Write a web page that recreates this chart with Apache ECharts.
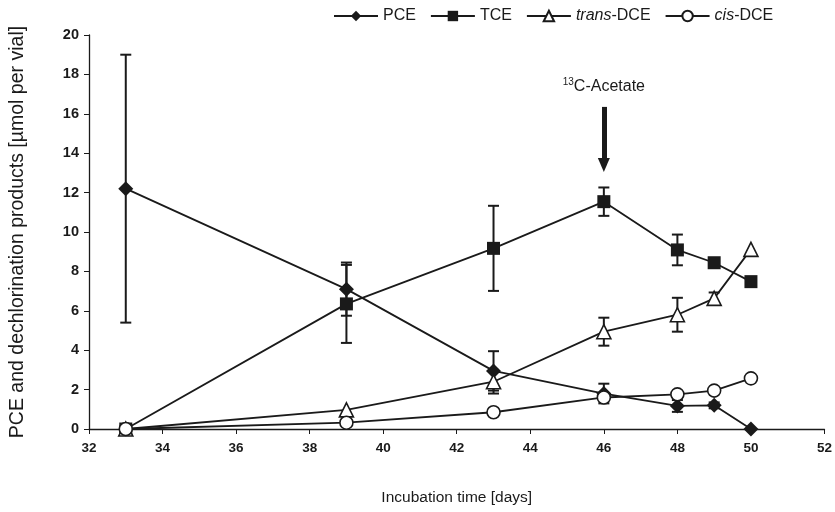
<!DOCTYPE html>
<html>
<head>
<meta charset="utf-8">
<script src="https://cdn.jsdelivr.net/npm/echarts@6/dist/echarts.min.js"></script>
<style>
  html, body { margin: 0; padding: 0; background: #fff; }
  #chart { width: 835px; height: 512px; }
</style>
</head>
<body>
<div id="chart"></div>
<script>
// incubation days
const days = [33, 39, 43, 46, 48, 49, 50]

// concentrations [umol per vial]
const pce = [12.2, 7.1, 2.95, 1.8, 1.17, 1.2, 0]
const tce = [0, 6.35, 9.17, 11.54, 9.09, 8.44, 7.48]
const transDce = [0, 0.97, 2.4, 4.94, 5.8, 6.63, 9.12]
const cisDce = [0, 0.32, 0.85, 1.6, 1.76, 1.95, 2.57]

// error bar half-widths (null = none)
const pceErr = [6.8, 1.35, 1.0, 0.5, 0.3, 0.15, null]
const tceErr = [null, 1.98, 2.16, 0.72, 0.78, null, null]
const transErr = [null, null, 0.6, 0.71, 0.86, 0.3, null]

const xTicks = [32, 52, 2]
const yTicks = [0, 20, 2]

const acetateDay = 46
const arrowFrom = 16.35
const arrowTo = 13.4

const ink = '#1a1a1a'
const font = 'Liberation Sans, Arial, sans-serif'

function pairs(vals) {
  return days.map((d, i) => [d, vals[i]])
}

function errData(vals, errs) {
  const out = []
  errs.forEach((e, i) => {
    if (e != null) out.push([days[i], vals[i] - e, vals[i] + e])
  })
  return out
}

function errorSeries(vals, errs) {
  return {
    type: 'custom',
    silent: true,
    z: 1,
    data: errData(vals, errs),
    encode: { x: 0, y: [1, 2] },
    renderItem(params, api) {
      const lo = api.coord([api.value(0), api.value(1)])
      const hi = api.coord([api.value(0), api.value(2)])
      const w = 5.5
      const style = { stroke: ink, lineWidth: 2 }
      return {
        type: 'group',
        children: [
          { type: 'line', shape: { x1: hi[0], y1: hi[1], x2: lo[0], y2: lo[1] }, style },
          { type: 'line', shape: { x1: hi[0] - w, y1: hi[1], x2: hi[0] + w, y2: hi[1] }, style },
          { type: 'line', shape: { x1: lo[0] - w, y1: lo[1], x2: lo[0] + w, y2: lo[1] }, style }
        ]
      }
    }
  }
}

function lineSeries(name, vals, symbol, size, filled) {
  return {
    name,
    type: 'line',
    z: 3,
    data: pairs(vals),
    symbol,
    symbolSize: size,
    showAllSymbol: true,
    lineStyle: { color: ink, width: 1.8 },
    itemStyle: { color: filled ? ink : '#fff', borderColor: ink, borderWidth: filled ? 0 : 1.6 }
  }
}

const chart = echarts.init(document.getElementById('chart'))

chart.setOption({
  animation: false,
  grid: { left: 88, right: 6, top: 35, bottom: 83 },
  legend: {
    top: 3,
    left: 330,
    padding: [5, 3],
    itemWidth: 44,
    itemHeight: 13,
    itemGap: 14,
    data: ['PCE', 'TCE', 'trans-DCE', 'cis-DCE'],
    formatter(name) {
      if (name === 'trans-DCE') return '{i|trans}-DCE'
      if (name === 'cis-DCE') return '{i|cis}-DCE'
      return name
    },
    textStyle: {
      fontFamily: font,
      fontSize: 16,
      color: ink,
      rich: { i: { fontStyle: 'italic', fontFamily: font, fontSize: 16, color: ink } }
    }
  },
  xAxis: {
    type: 'value',
    min: xTicks[0],
    max: xTicks[1],
    interval: xTicks[2],
    name: 'Incubation time [days]',
    nameLocation: 'middle',
    nameGap: 61,
    nameTextStyle: { fontFamily: font, fontSize: 15.5, color: ink },
    axisLine: { onZero: false, lineStyle: { color: ink, width: 1.3 } },
    axisTick: { show: true, length: 5, lineStyle: { color: ink } },
    axisLabel: { fontFamily: font, fontSize: 13.5, fontWeight: 'bold', color: ink, margin: 12 },
    splitLine: { show: false }
  },
  yAxis: {
    type: 'value',
    min: yTicks[0],
    max: yTicks[1],
    interval: yTicks[2],
    name: 'PCE and dechlorination products [µmol per vial]',
    nameLocation: 'middle',
    nameGap: 61,
    nameTextStyle: { fontFamily: font, fontSize: 19.5, color: ink },
    axisLine: { show: true, lineStyle: { color: ink, width: 1.3 } },
    axisTick: { show: true, length: 5, lineStyle: { color: ink } },
    axisLabel: { fontFamily: font, fontSize: 14.5, fontWeight: 'bold', color: ink, margin: 10 },
    splitLine: { show: false }
  },
  series: [
    errorSeries(pce, pceErr),
    errorSeries(tce, tceErr),
    errorSeries(transDce, transErr),
    lineSeries('PCE', pce, 'diamond', 15, true),
    lineSeries('TCE', tce, 'rect', 13, true),
    lineSeries('trans-DCE', transDce, 'triangle', 14, false),
    lineSeries('cis-DCE', cisDce, 'circle', 13, false),
    {
      type: 'line',
      data: [],
      silent: true,
      markLine: {
        silent: true,
        symbol: ['none', 'triangle'],
        symbolSize: [12, 14],
        lineStyle: { color: ink, width: 5, type: 'solid' },
        label: {
          show: true,
          position: 'start',
          distance: 11,
          formatter: '{s|13}C-Acetate',
          fontFamily: font,
          fontSize: 16,
          color: ink,
          rich: {
            s: { fontFamily: font, fontSize: 10, color: ink, verticalAlign: 'top', padding: [0, 0, 9, 0] }
          }
        },
        data: [[{ coord: [acetateDay, arrowFrom] }, { coord: [acetateDay, arrowTo] }]]
      }
    }
  ]
})
</script>
</body>
</html>
